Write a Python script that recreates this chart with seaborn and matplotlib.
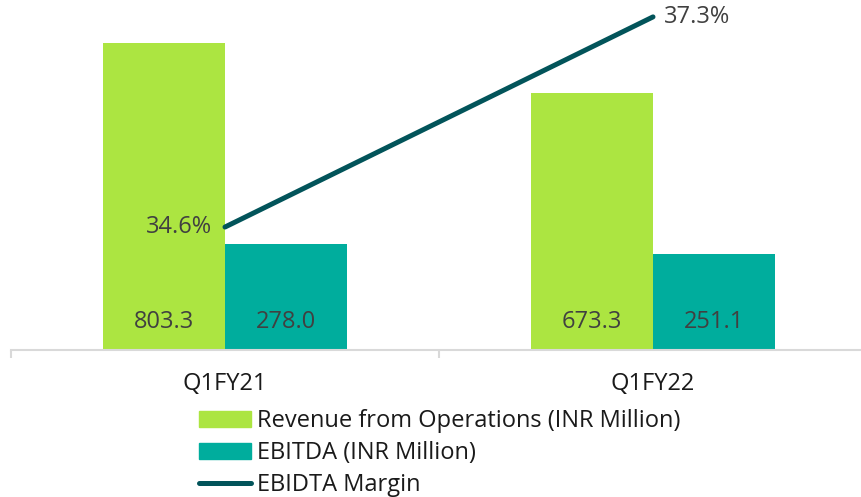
import matplotlib
matplotlib.use('Agg')
import matplotlib.pyplot as plt
import seaborn as sns
import pandas as pd
from matplotlib.patches import Patch
from matplotlib.lines import Line2D

# ── Data ──────────────────────────────────────────────
quarters = ['Q1FY21', 'Q1FY22']
revenue = [803.3, 673.3]
ebitda = [278.0, 251.1]
margin = [34.6, 37.3]

series_names = ['Revenue from Operations (INR Million)', 'EBITDA (INR Million)']
margin_name = 'EBIDTA Margin'

LIME = '#ace541'
TEAL = '#00ad9d'
DARK = '#02545a'
TXT = '#404040'
FS = 17

df = pd.DataFrame({
    'quarter': quarters * 2,
    'series': [series_names[0]] * 2 + [series_names[1]] * 2,
    'value': revenue + ebitda,
})

sns.set_theme(style='white')
plt.rcParams['font.family'] = ['Open Sans', 'DejaVu Sans']

fig = plt.figure(figsize=(8.62, 4.97), dpi=100)
ax = fig.add_axes([11 / 862, 1 - 350 / 497, 856 / 862, 344 / 497])

sns.barplot(data=df, x='quarter', y='value', hue='series', order=quarters,
            hue_order=series_names, palette=[LIME, TEAL], width=0.57, gap=0,
            saturation=1, linewidth=0, ax=ax, legend=False)
ax.set_ylim(0, 900)
ax.set_xlim(-0.5, 1.5)

# value labels near the bottom of each bar
for cont in ax.containers:
    for bar in cont:
        ax.annotate(f'{bar.get_height():.1f}', (bar.get_x() + bar.get_width() / 2, 0),
                    xytext=(0, 20), textcoords='offset points', ha='center', va='center',
                    fontsize=FS, color=TXT)

# margin line on secondary axis
ax2 = ax.twinx()
sns.lineplot(x=[0, 1], y=margin, ax=ax2, color=DARK, linewidth=3.6, sort=False)
ax2.set_ylim(33.02, 37.44)
ax2.annotate(f'{margin[0]:.1f}%', (0, margin[0]), xytext=(-9, 0), textcoords='offset points',
             ha='right', va='center', fontsize=FS, color=TXT)
ax2.annotate(f'{margin[1]:.1f}%', (1, margin[1]), xytext=(8, 0), textcoords='offset points',
             ha='left', va='center', fontsize=FS, color=TXT)

for a in (ax, ax2):
    for s in ['top', 'right', 'left']:
        a.spines[s].set_visible(False)
    a.set_yticks([])
    a.set_ylabel('')
ax2.spines['bottom'].set_visible(False)

ax.spines['bottom'].set_color('#d9d9d9')
ax.spines['bottom'].set_linewidth(1.5)
ax.set_xlabel('')
ax.set_xticks([0, 1])
ax.set_xticklabels(quarters, fontsize=FS, color='#1a1a1a')
ax.tick_params(axis='x', which='major', length=0, pad=16)
ax.set_xticks([-0.5, 0.5, 1.5], minor=True)
ax.tick_params(axis='x', which='minor', length=6, width=1.5, color='#d9d9d9', bottom=True)

handles = [Patch(color=LIME, label=series_names[0]),
           Patch(color=TEAL, label=series_names[1]),
           Line2D([0], [0], color=DARK, lw=3.6, label=margin_name)]
fig.legend(handles=handles, loc='upper left', bbox_to_anchor=(199 / 862, 1 - 409 / 497),
           frameon=False, fontsize=FS, handlelength=2.2, handleheight=0.64,
           labelspacing=0.34, handletextpad=0.25, borderaxespad=0, borderpad=0,
           labelcolor='#1a1a1a')

plt.savefig('out.png', dpi=100)
